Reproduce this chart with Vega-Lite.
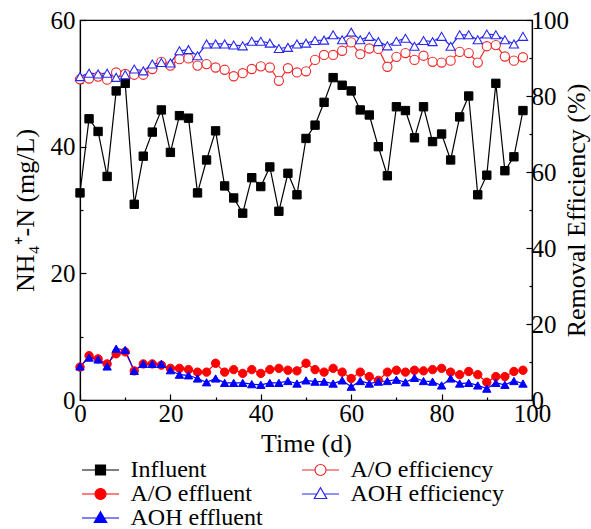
{
  "$schema": "https://vega.github.io/schema/vega-lite/v6.json",
  "width": 452,
  "height": 380,
  "autosize": "none",
  "padding": {"left": 80, "top": 20, "right": 59, "bottom": 129},
  "background": "white",
  "config": {
    "view": {"stroke": "black", "strokeWidth": 1.2},
    "axis": {"grid": false, "labelFlush": false, "domainColor": "black", "domainWidth": 1.2, "tickColor": "black", "tickWidth": 1.2, "labelColor": "black", "titleColor": "black", "labelFont": "Liberation Serif", "titleFont": "Liberation Serif", "labelFontSize": 25, "titleFontSize": 26, "titleFontWeight": "normal"},
    "legend": {"labelFont": "Liberation Serif", "labelFontSize": 24, "labelColor": "black", "rowPadding": -3.5, "columnPadding": 36, "labelOffset": 18, "symbolSize": 400, "padding": 0, "labelLimit": 400}
  },
  "datasets": {
    "conc": [
      {"day":0,"series":"Influent","value":32.7},{"day":2,"series":"Influent","value":44.4},{"day":4,"series":"Influent","value":42.4},{"day":6,"series":"Influent","value":35.3},{"day":8,"series":"Influent","value":48.8},{"day":10,"series":"Influent","value":50.0},{"day":12,"series":"Influent","value":30.9},{"day":14,"series":"Influent","value":38.5},{"day":16,"series":"Influent","value":42.3},{"day":18,"series":"Influent","value":45.8},{"day":20,"series":"Influent","value":39.1},{"day":22,"series":"Influent","value":44.9},{"day":24,"series":"Influent","value":44.5},{"day":26,"series":"Influent","value":32.7},{"day":28,"series":"Influent","value":37.9},{"day":30,"series":"Influent","value":42.5},{"day":32,"series":"Influent","value":33.8},{"day":34,"series":"Influent","value":31.9},{"day":36,"series":"Influent","value":29.5},{"day":38,"series":"Influent","value":35.1},{"day":40,"series":"Influent","value":33.7},{"day":42,"series":"Influent","value":36.8},{"day":44,"series":"Influent","value":29.8},{"day":46,"series":"Influent","value":35.8},{"day":48,"series":"Influent","value":32.4},{"day":50,"series":"Influent","value":41.3},{"day":52,"series":"Influent","value":43.4},{"day":54,"series":"Influent","value":47.0},{"day":56,"series":"Influent","value":50.9},{"day":58,"series":"Influent","value":49.7},{"day":60,"series":"Influent","value":48.8},{"day":62,"series":"Influent","value":45.8},{"day":64,"series":"Influent","value":45.0},{"day":66,"series":"Influent","value":40.0},{"day":68,"series":"Influent","value":35.4},{"day":70,"series":"Influent","value":46.3},{"day":72,"series":"Influent","value":45.7},{"day":74,"series":"Influent","value":41.4},{"day":76,"series":"Influent","value":46.3},{"day":78,"series":"Influent","value":40.8},{"day":80,"series":"Influent","value":42.0},{"day":82,"series":"Influent","value":37.9},{"day":84,"series":"Influent","value":44.7},{"day":86,"series":"Influent","value":48.0},{"day":88,"series":"Influent","value":32.4},{"day":90,"series":"Influent","value":35.5},{"day":92,"series":"Influent","value":50.0},{"day":94,"series":"Influent","value":36.2},{"day":96,"series":"Influent","value":38.4},{"day":98,"series":"Influent","value":45.7},
      {"day":0,"series":"A/O effluent","value":5.2},{"day":2,"series":"A/O effluent","value":7.0},{"day":4,"series":"A/O effluent","value":6.5},{"day":6,"series":"A/O effluent","value":5.7},{"day":8,"series":"A/O effluent","value":7.3},{"day":10,"series":"A/O effluent","value":7.6},{"day":12,"series":"A/O effluent","value":4.6},{"day":14,"series":"A/O effluent","value":5.7},{"day":16,"series":"A/O effluent","value":5.7},{"day":18,"series":"A/O effluent","value":5.5},{"day":20,"series":"A/O effluent","value":5.0},{"day":22,"series":"A/O effluent","value":5.0},{"day":24,"series":"A/O effluent","value":4.8},{"day":26,"series":"A/O effluent","value":4.4},{"day":28,"series":"A/O effluent","value":4.4},{"day":30,"series":"A/O effluent","value":5.8},{"day":32,"series":"A/O effluent","value":4.4},{"day":34,"series":"A/O effluent","value":4.8},{"day":36,"series":"A/O effluent","value":4.2},{"day":38,"series":"A/O effluent","value":4.8},{"day":40,"series":"A/O effluent","value":4.2},{"day":42,"series":"A/O effluent","value":4.8},{"day":44,"series":"A/O effluent","value":5.0},{"day":46,"series":"A/O effluent","value":4.7},{"day":48,"series":"A/O effluent","value":4.6},{"day":50,"series":"A/O effluent","value":5.8},{"day":52,"series":"A/O effluent","value":4.8},{"day":54,"series":"A/O effluent","value":4.4},{"day":56,"series":"A/O effluent","value":5.0},{"day":58,"series":"A/O effluent","value":4.4},{"day":60,"series":"A/O effluent","value":3.4},{"day":62,"series":"A/O effluent","value":4.4},{"day":64,"series":"A/O effluent","value":3.7},{"day":66,"series":"A/O effluent","value":3.1},{"day":68,"series":"A/O effluent","value":4.4},{"day":70,"series":"A/O effluent","value":4.7},{"day":72,"series":"A/O effluent","value":4.4},{"day":74,"series":"A/O effluent","value":4.7},{"day":76,"series":"A/O effluent","value":4.6},{"day":78,"series":"A/O effluent","value":4.8},{"day":80,"series":"A/O effluent","value":5.0},{"day":82,"series":"A/O effluent","value":4.4},{"day":84,"series":"A/O effluent","value":4.0},{"day":86,"series":"A/O effluent","value":4.5},{"day":88,"series":"A/O effluent","value":4.0},{"day":90,"series":"A/O effluent","value":2.8},{"day":92,"series":"A/O effluent","value":3.7},{"day":94,"series":"A/O effluent","value":3.7},{"day":96,"series":"A/O effluent","value":4.5},{"day":98,"series":"A/O effluent","value":4.7},
      {"day":0,"series":"AOH effluent","value":5.3},{"day":2,"series":"AOH effluent","value":6.7},{"day":4,"series":"AOH effluent","value":6.4},{"day":6,"series":"AOH effluent","value":5.3},{"day":8,"series":"AOH effluent","value":8.1},{"day":10,"series":"AOH effluent","value":7.9},{"day":12,"series":"AOH effluent","value":4.6},{"day":14,"series":"AOH effluent","value":5.7},{"day":16,"series":"AOH effluent","value":5.7},{"day":18,"series":"AOH effluent","value":5.7},{"day":20,"series":"AOH effluent","value":4.7},{"day":22,"series":"AOH effluent","value":4.0},{"day":24,"series":"AOH effluent","value":3.9},{"day":26,"series":"AOH effluent","value":3.4},{"day":28,"series":"AOH effluent","value":2.8},{"day":30,"series":"AOH effluent","value":3.4},{"day":32,"series":"AOH effluent","value":2.7},{"day":34,"series":"AOH effluent","value":2.7},{"day":36,"series":"AOH effluent","value":2.7},{"day":38,"series":"AOH effluent","value":2.5},{"day":40,"series":"AOH effluent","value":2.4},{"day":42,"series":"AOH effluent","value":2.7},{"day":44,"series":"AOH effluent","value":2.7},{"day":46,"series":"AOH effluent","value":3.0},{"day":48,"series":"AOH effluent","value":2.6},{"day":50,"series":"AOH effluent","value":3.1},{"day":52,"series":"AOH effluent","value":2.9},{"day":54,"series":"AOH effluent","value":2.9},{"day":56,"series":"AOH effluent","value":2.6},{"day":58,"series":"AOH effluent","value":3.1},{"day":60,"series":"AOH effluent","value":2.1},{"day":62,"series":"AOH effluent","value":3.0},{"day":64,"series":"AOH effluent","value":2.6},{"day":66,"series":"AOH effluent","value":2.9},{"day":68,"series":"AOH effluent","value":3.0},{"day":70,"series":"AOH effluent","value":3.2},{"day":72,"series":"AOH effluent","value":2.8},{"day":74,"series":"AOH effluent","value":3.5},{"day":76,"series":"AOH effluent","value":3.0},{"day":78,"series":"AOH effluent","value":2.9},{"day":80,"series":"AOH effluent","value":2.3},{"day":82,"series":"AOH effluent","value":3.4},{"day":84,"series":"AOH effluent","value":2.6},{"day":86,"series":"AOH effluent","value":2.7},{"day":88,"series":"AOH effluent","value":2.3},{"day":90,"series":"AOH effluent","value":1.8},{"day":92,"series":"AOH effluent","value":2.7},{"day":94,"series":"AOH effluent","value":2.4},{"day":96,"series":"AOH effluent","value":3.0},{"day":98,"series":"AOH effluent","value":2.6}
    ],
    "eff": [
      {"day":0,"series":"A/O efficiency","value":84.4},{"day":2,"series":"A/O efficiency","value":84.6},{"day":4,"series":"A/O efficiency","value":85.1},{"day":6,"series":"A/O efficiency","value":84.3},{"day":8,"series":"A/O efficiency","value":86.2},{"day":10,"series":"A/O efficiency","value":85.8},{"day":12,"series":"A/O efficiency","value":85.6},{"day":14,"series":"A/O efficiency","value":85.6},{"day":16,"series":"A/O efficiency","value":87.1},{"day":18,"series":"A/O efficiency","value":89.0},{"day":20,"series":"A/O efficiency","value":88.0},{"day":22,"series":"A/O efficiency","value":89.7},{"day":24,"series":"A/O efficiency","value":89.9},{"day":26,"series":"A/O efficiency","value":88.0},{"day":28,"series":"A/O efficiency","value":88.4},{"day":30,"series":"A/O efficiency","value":87.5},{"day":32,"series":"A/O efficiency","value":86.9},{"day":34,"series":"A/O efficiency","value":85.2},{"day":36,"series":"A/O efficiency","value":86.0},{"day":38,"series":"A/O efficiency","value":87.1},{"day":40,"series":"A/O efficiency","value":87.8},{"day":42,"series":"A/O efficiency","value":87.5},{"day":44,"series":"A/O efficiency","value":84.0},{"day":46,"series":"A/O efficiency","value":87.3},{"day":48,"series":"A/O efficiency","value":86.2},{"day":50,"series":"A/O efficiency","value":86.5},{"day":52,"series":"A/O efficiency","value":89.5},{"day":54,"series":"A/O efficiency","value":90.8},{"day":56,"series":"A/O efficiency","value":90.8},{"day":58,"series":"A/O efficiency","value":91.9},{"day":60,"series":"A/O efficiency","value":94.1},{"day":62,"series":"A/O efficiency","value":91.0},{"day":64,"series":"A/O efficiency","value":92.5},{"day":66,"series":"A/O efficiency","value":92.4},{"day":68,"series":"A/O efficiency","value":87.7},{"day":70,"series":"A/O efficiency","value":90.3},{"day":72,"series":"A/O efficiency","value":91.3},{"day":74,"series":"A/O efficiency","value":89.5},{"day":76,"series":"A/O efficiency","value":90.6},{"day":78,"series":"A/O efficiency","value":89.0},{"day":80,"series":"A/O efficiency","value":88.8},{"day":82,"series":"A/O efficiency","value":89.3},{"day":84,"series":"A/O efficiency","value":91.6},{"day":86,"series":"A/O efficiency","value":91.3},{"day":88,"series":"A/O efficiency","value":88.8},{"day":90,"series":"A/O efficiency","value":93.1},{"day":92,"series":"A/O efficiency","value":93.4},{"day":94,"series":"A/O efficiency","value":90.4},{"day":96,"series":"A/O efficiency","value":89.3},{"day":98,"series":"A/O efficiency","value":90.2},
      {"day":0,"series":"AOH efficiency","value":85.1},{"day":2,"series":"AOH efficiency","value":86.0},{"day":4,"series":"AOH efficiency","value":85.8},{"day":6,"series":"AOH efficiency","value":86.0},{"day":8,"series":"AOH efficiency","value":84.9},{"day":10,"series":"AOH efficiency","value":85.6},{"day":12,"series":"AOH efficiency","value":87.1},{"day":14,"series":"AOH efficiency","value":86.6},{"day":16,"series":"AOH efficiency","value":88.4},{"day":18,"series":"AOH efficiency","value":88.8},{"day":20,"series":"AOH efficiency","value":88.7},{"day":22,"series":"AOH efficiency","value":91.9},{"day":24,"series":"AOH efficiency","value":92.2},{"day":26,"series":"AOH efficiency","value":90.6},{"day":28,"series":"AOH efficiency","value":93.7},{"day":30,"series":"AOH efficiency","value":93.7},{"day":32,"series":"AOH efficiency","value":93.7},{"day":34,"series":"AOH efficiency","value":93.4},{"day":36,"series":"AOH efficiency","value":93.2},{"day":38,"series":"AOH efficiency","value":94.4},{"day":40,"series":"AOH efficiency","value":94.4},{"day":42,"series":"AOH efficiency","value":93.9},{"day":44,"series":"AOH efficiency","value":92.5},{"day":46,"series":"AOH efficiency","value":92.8},{"day":48,"series":"AOH efficiency","value":93.7},{"day":50,"series":"AOH efficiency","value":93.9},{"day":52,"series":"AOH efficiency","value":94.6},{"day":54,"series":"AOH efficiency","value":94.7},{"day":56,"series":"AOH efficiency","value":96.1},{"day":58,"series":"AOH efficiency","value":94.8},{"day":60,"series":"AOH efficiency","value":96.8},{"day":62,"series":"AOH efficiency","value":94.8},{"day":64,"series":"AOH efficiency","value":95.7},{"day":66,"series":"AOH efficiency","value":94.3},{"day":68,"series":"AOH efficiency","value":93.2},{"day":70,"series":"AOH efficiency","value":94.4},{"day":72,"series":"AOH efficiency","value":95.2},{"day":74,"series":"AOH efficiency","value":93.1},{"day":76,"series":"AOH efficiency","value":94.6},{"day":78,"series":"AOH efficiency","value":94.3},{"day":80,"series":"AOH efficiency","value":95.7},{"day":82,"series":"AOH efficiency","value":93.1},{"day":84,"series":"AOH efficiency","value":96.1},{"day":86,"series":"AOH efficiency","value":96.1},{"day":88,"series":"AOH efficiency","value":94.8},{"day":90,"series":"AOH efficiency","value":96.3},{"day":92,"series":"AOH efficiency","value":96.1},{"day":94,"series":"AOH efficiency","value":94.8},{"day":96,"series":"AOH efficiency","value":93.7},{"day":98,"series":"AOH efficiency","value":95.7}
    ]
  },
  "encoding": {
    "x": {
      "field": "day", "type": "quantitative",
      "scale": {"domain": [0, 100], "nice": false},
      "axis": {
        "title": "Time (d)",
        "values": [0, 10, 20, 30, 40, 50, 60, 70, 80, 90, 100],
        "labelExpr": "datum.value % 20 === 0 ? datum.label : ''",
        "tickSize": {"condition": {"test": "datum.value % 20 === 0", "value": -6}, "value": -3},
        "labelPadding": 7,
        "titlePadding": 4
      }
    },
    "stroke": {
      "field": "series", "type": "nominal",
      "scale": {
        "domain": ["Influent", "A/O effluent", "AOH effluent", "A/O efficiency", "AOH efficiency"],
        "range": ["#000000", "#ff0000", "#0000ff", "#f02828", "#2828f0"]
      },
      "legend": {
        "orient": "none", "legendX": 8.5, "legendY": 438, "columns": 2, "title": null, "padding": 0,
        "symbolSize": 400, "symbolStrokeWidth": 1.2, "labelOffset": 18, "columnPadding": 36, "rowPadding": -3.5, "labelLimit": 400,
        "encode": {
          "symbols": {"update": {
          "shape": {"signal": "datum.value === 'Influent' ? 'M-1.85,0H-0.5M0.5,0H1.85M-0.5,-0.5H0.5V0.5H-0.5Z' : (datum.value === 'A/O effluent' || datum.value === 'A/O efficiency') ? 'M-1.85,0H-0.55M0.55,0H1.85M0.55,0A0.55,0.55,0,1,1,-0.55,0A0.55,0.55,0,1,1,0.55,0Z' : 'M-1.85,0H-0.34M0.34,0H1.85M0,-0.62L0.62,0.45L-0.62,0.45Z'"},
          "strokeWidth": {"value": 1.2}, "opacity": {"value": 1}, "fillOpacity": {"value": 1}, "strokeOpacity": {"value": 1}
        }}}
      }
    }
  },
  "layer": [
    {
      "data": {"name": "conc"},
      "encoding": {
        "y": {
          "field": "value", "type": "quantitative",
          "scale": {"domain": [0, 60], "nice": false},
          "axis": {
            "title": "NH₄⁺-N (mg/L)",
            "values": [0, 10, 20, 30, 40, 50, 60],
            "labelExpr": "datum.value % 20 === 0 ? datum.label : ''",
            "tickSize": {"condition": {"test": "datum.value % 20 === 0", "value": -6}, "value": -3},
            "labelPadding": 11,
            "titlePadding": 12
          }
        }
      },
      "layer": [
        {"mark": {"type": "line", "strokeWidth": 1.2}, "encoding": {"detail": {"field": "series"}}},
        {
          "mark": {"type": "point", "filled": true, "size": 70, "opacity": 1, "strokeWidth": 1},
          "encoding": {
            "fill": {
              "field": "series", "type": "nominal",
              "scale": {"domain": ["Influent", "A/O effluent", "AOH effluent", "A/O efficiency", "AOH efficiency"], "range": ["#000000", "#ff0000", "#0000ff", "#ffffff", "#ffffff"]},
              "legend": {
                "orient": "none", "legendX": 8.5, "legendY": 438, "columns": 2, "title": null, "padding": 0,
                "symbolSize": 400, "symbolStrokeWidth": 1.2, "labelOffset": 18, "columnPadding": 36, "rowPadding": -3.5, "labelLimit": 400,
                "encode": {
                  "symbols": {"update": {
                  "shape": {"signal": "datum.value === 'Influent' ? 'M-1.85,0H-0.5M0.5,0H1.85M-0.5,-0.5H0.5V0.5H-0.5Z' : (datum.value === 'A/O effluent' || datum.value === 'A/O efficiency') ? 'M-1.85,0H-0.55M0.55,0H1.85M0.55,0A0.55,0.55,0,1,1,-0.55,0A0.55,0.55,0,1,1,0.55,0Z' : 'M-1.85,0H-0.34M0.34,0H1.85M0,-0.62L0.62,0.45L-0.62,0.45Z'"},
                  "strokeWidth": {"value": 1.2}, "opacity": {"value": 1}, "fillOpacity": {"value": 1}, "strokeOpacity": {"value": 1}
                }}}
              }
            },
            "shape": {"field": "series", "type": "nominal", "scale": {"domain": ["Influent", "A/O effluent", "AOH effluent"], "range": ["square", "circle", "triangle-up"]}, "legend": null}
          }
        }
      ]
    },
    {
      "data": {"name": "eff"},
      "encoding": {
        "y": {
          "field": "value", "type": "quantitative",
          "scale": {"domain": [0, 100], "nice": false},
          "axis": {
            "orient": "right",
            "title": "Removal Efficiency (%)",
            "titleAngle": -90,
            "titleBaseline": "top",
            "values": [0, 10, 20, 30, 40, 50, 60, 70, 80, 90, 100],
            "labelExpr": "datum.value % 20 === 0 ? datum.label : ''",
            "tickSize": {"condition": {"test": "datum.value % 20 === 0", "value": -6}, "value": -3},
            "labelPadding": 5,
            "titlePadding": -5
          }
        }
      },
      "layer": [
        {"mark": {"type": "line", "strokeWidth": 1.2}, "encoding": {"detail": {"field": "series"}}},
        {
          "mark": {"type": "point", "filled": true, "size": 85, "strokeWidth": 1.1, "opacity": 1},
          "encoding": {
            "fill": {
              "field": "series", "type": "nominal",
              "scale": {"domain": ["Influent", "A/O effluent", "AOH effluent", "A/O efficiency", "AOH efficiency"], "range": ["#000000", "#ff0000", "#0000ff", "#ffffff", "#ffffff"]},
              "legend": {
                "orient": "none", "legendX": 8.5, "legendY": 438, "columns": 2, "title": null, "padding": 0,
                "symbolSize": 400, "symbolStrokeWidth": 1.2, "labelOffset": 18, "columnPadding": 36, "rowPadding": -3.5, "labelLimit": 400,
                "encode": {
                  "symbols": {"update": {
                  "shape": {"signal": "datum.value === 'Influent' ? 'M-1.85,0H-0.5M0.5,0H1.85M-0.5,-0.5H0.5V0.5H-0.5Z' : (datum.value === 'A/O effluent' || datum.value === 'A/O efficiency') ? 'M-1.85,0H-0.55M0.55,0H1.85M0.55,0A0.55,0.55,0,1,1,-0.55,0A0.55,0.55,0,1,1,0.55,0Z' : 'M-1.85,0H-0.34M0.34,0H1.85M0,-0.62L0.62,0.45L-0.62,0.45Z'"},
                  "strokeWidth": {"value": 1.2}, "opacity": {"value": 1}, "fillOpacity": {"value": 1}, "strokeOpacity": {"value": 1}
                }}}
              }
            },
            "shape": {"field": "series", "type": "nominal", "scale": {"domain": ["A/O efficiency", "AOH efficiency"], "range": ["circle", "triangle-up"]}, "legend": null}
          }
        }
      ]
    }
  ],
  "resolve": {"scale": {"y": "independent", "shape": "independent"}}
}
